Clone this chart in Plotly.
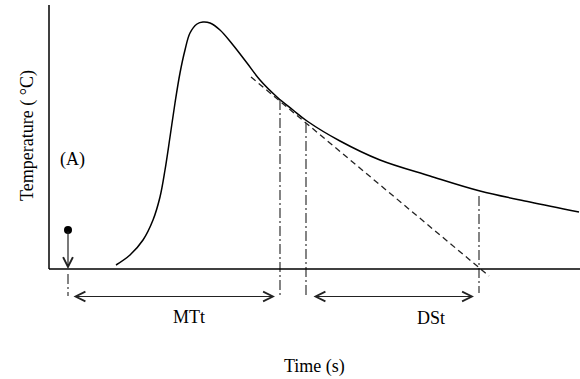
import plotly.graph_objects as go

# Temperature curve (arbitrary units)
time = [6.7, 8.1, 9.4, 10.4, 11.1, 11.6, 12.1, 12.6, 13.1, 13.6, 14.1, 14.8, 15.4,
        16.1, 17.1, 18.4, 19.8, 21.1, 22.8, 24.4, 25.8, 29.1, 33.1, 38.1, 43.1, 48.1, 53.0]
temp = [0.4, 1.4, 2.9, 4.9, 7.2, 9.9, 13.2, 16.6, 19.6, 21.9, 23.6, 24.5, 24.7,
        24.6, 23.9, 22.4, 20.6, 18.9, 17.2, 15.9, 14.8, 12.8, 10.9, 9.3, 7.8, 6.7, 5.7]

# Tangent (extrapolated decay)
tangent_t = [20.2, 44.0]
tangent_T = [19.2, -0.7]

# Key times
t_inject = 1.9          # (A) injection
inject_T = 3.9
t_mt = 23.1             # end of mean transit
t_ds0 = 25.7            # decay start
t_ds1 = 43.0            # decay end
T_mt = 16.9
T_ds0 = 14.6
T_ds1 = 7.3
arrow_T = -2.75
guide_bottom = -2.9

x_max = 53.1
y_top = 26.4

fig = go.Figure()

fig.add_trace(go.Scatter(x=time, y=temp, mode="lines",
                         line=dict(color="black", width=1.5, shape="spline", smoothing=1.0),
                         hoverinfo="skip", showlegend=False))

fig.add_trace(go.Scatter(x=tangent_t, y=tangent_T, mode="lines",
                         line=dict(color="#222", width=1.3, dash="6px,4px"),
                         showlegend=False))

guides = [(t_mt, T_mt, guide_bottom), (t_ds0, T_ds0, guide_bottom),
          (t_ds1, T_ds1, -2.4), (t_inject, -0.5, -2.7)]
for gx, gy0, gy1 in guides:
    fig.add_trace(go.Scatter(x=[gx, gx], y=[gy0, gy1], mode="lines",
                             line=dict(color="#333", width=1.2, dash="10px,3px,2px,3px"),
                             showlegend=False))

fig.add_trace(go.Scatter(x=[t_inject], y=[inject_T], mode="markers",
                         marker=dict(color="black", size=8), showlegend=False))

# axes lines
fig.add_shape(type="line", x0=0, x1=0, y0=0, y1=y_top, line=dict(color="black", width=1.5))
fig.add_shape(type="line", x0=0, x1=x_max, y0=0, y1=0, line=dict(color="black", width=1.5))

# injection arrow
fig.add_annotation(x=t_inject, y=0, ax=t_inject, ay=inject_T, xref="x", yref="y",
                   axref="x", ayref="y", text="", showarrow=True, arrowhead=5,
                   arrowsize=1.6, arrowwidth=1.2, arrowcolor="#222")

# double arrows
for a0, a1 in [(t_inject + 0.4, t_mt - 0.5), (t_ds0 + 0.6, t_ds1 - 0.5)]:
    fig.add_annotation(x=a1, y=arrow_T, ax=a0, ay=arrow_T, xref="x", yref="y",
                       axref="x", ayref="y", text="", showarrow=True,
                       arrowhead=5, startarrowhead=5, arrowside="end+start",
                       arrowsize=1.6, startarrowsize=1.6, arrowwidth=1.2, arrowcolor="#222")

font = dict(family="Liberation Serif", size=18, color="black")
fig.add_annotation(x=2.3, y=11.0, text="(A)", showarrow=False, font=font)
fig.add_annotation(x=(t_inject + t_mt) / 2 + 1.5, y=-4.8, text="MTt", showarrow=False, font=font)
fig.add_annotation(x=(t_ds0 + t_ds1) / 2 + 3.8, y=-4.9, text="DSt", showarrow=False, font=font)
fig.add_annotation(x=26.5, y=-9.7, text="Time (s)", showarrow=False, font=font)
fig.add_annotation(x=-2.2, y=13.3, text="Temperature ( °C)", textangle=-90, showarrow=False, font=font)

fig.update_layout(
    width=580, height=379,
    margin=dict(l=0, r=0, t=0, b=0),
    paper_bgcolor="white", plot_bgcolor="white",
    xaxis=dict(range=[-4.9, 53.1], visible=False),
    yaxis=dict(range=[-11.0, 26.9], visible=False),
    showlegend=False,
)

fig.write_html("out.html", config={"responsive": False, "displayModeBar": False},
               post_script="document.body.style.margin='0';document.body.style.overflow='hidden';")
